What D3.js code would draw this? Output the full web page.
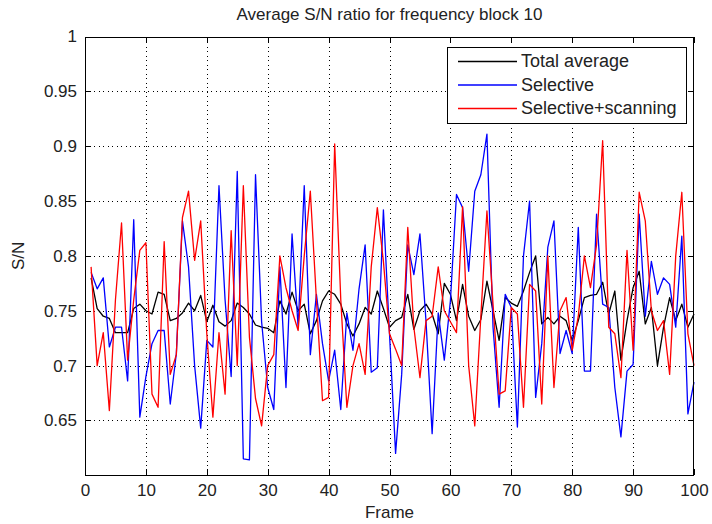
<!DOCTYPE html>
<html>
<head>
<meta charset="utf-8">
<script src="https://cdn.jsdelivr.net/npm/d3@7"></script>
<style>
  html, body { margin: 0; padding: 0; background: #fff; }
  svg { display: block; font-family: "Liberation Sans", Arial, sans-serif; }
</style>
</head>
<body>
<svg id="chart" width="712" height="524"></svg>
<script>
// Frame numbers 1..100
const frames = d3.range(1, 101);

// Average S/N per frame, all blocks combined
const totalAverage = [
  0.780, 0.752, 0.745, 0.743, 0.730, 0.730, 0.730, 0.752, 0.756, 0.750,
  0.747, 0.767, 0.765, 0.741, 0.743, 0.748, 0.757, 0.750, 0.764, 0.740,
  0.755, 0.740, 0.736, 0.741, 0.757, 0.753, 0.747, 0.737, 0.735, 0.734,
  0.730, 0.759, 0.747, 0.767, 0.750, 0.756, 0.729, 0.741, 0.759, 0.768,
  0.765, 0.756, 0.738, 0.727, 0.738, 0.753, 0.747, 0.768, 0.752, 0.735,
  0.741, 0.744, 0.765, 0.733, 0.750, 0.756, 0.747, 0.729, 0.775, 0.765,
  0.741, 0.774, 0.745, 0.732, 0.742, 0.777, 0.750, 0.723, 0.762, 0.757,
  0.754, 0.768, 0.785, 0.800, 0.738, 0.744, 0.738, 0.745, 0.741, 0.723,
  0.741, 0.762, 0.764, 0.765, 0.776, 0.747, 0.768, 0.705, 0.741, 0.771,
  0.786, 0.738, 0.753, 0.700, 0.735, 0.762, 0.741, 0.756, 0.735, 0.747
];

// Selective mode
const selective = [
  0.785, 0.770, 0.780, 0.717, 0.735, 0.735, 0.686, 0.833, 0.653, 0.690,
  0.720, 0.732, 0.732, 0.665, 0.711, 0.832, 0.790, 0.700, 0.643, 0.723,
  0.717, 0.864, 0.760, 0.690, 0.877, 0.615, 0.614, 0.874, 0.740, 0.680,
  0.660, 0.790, 0.680, 0.820, 0.735, 0.864, 0.710, 0.765, 0.720, 0.686,
  0.714, 0.660, 0.748, 0.714, 0.770, 0.810, 0.694, 0.698, 0.842, 0.729,
  0.620, 0.692, 0.810, 0.783, 0.820, 0.740, 0.638, 0.748, 0.705, 0.759,
  0.856, 0.844, 0.786, 0.859, 0.874, 0.911, 0.735, 0.662, 0.765, 0.753,
  0.644, 0.800, 0.850, 0.671, 0.720, 0.808, 0.832, 0.711, 0.732, 0.711,
  0.826, 0.695, 0.695, 0.838, 0.756, 0.753, 0.680, 0.635, 0.695, 0.701,
  0.838, 0.745, 0.795, 0.765, 0.780, 0.774, 0.735, 0.818, 0.656, 0.685
];

// Selective mode with scanning
const selectiveScanning = [
  0.790, 0.700, 0.730, 0.659, 0.760, 0.830, 0.705, 0.760, 0.805, 0.812,
  0.674, 0.662, 0.813, 0.692, 0.710, 0.835, 0.859, 0.796, 0.832, 0.729,
  0.653, 0.730, 0.674, 0.823, 0.700, 0.864, 0.726, 0.670, 0.645, 0.700,
  0.710, 0.800, 0.771, 0.750, 0.732, 0.800, 0.859, 0.760, 0.668, 0.671,
  0.902, 0.760, 0.662, 0.700, 0.720, 0.692, 0.790, 0.844, 0.795, 0.729,
  0.715, 0.700, 0.826, 0.735, 0.689, 0.741, 0.745, 0.790, 0.750, 0.740,
  0.730, 0.845, 0.700, 0.645, 0.745, 0.841, 0.756, 0.674, 0.677, 0.753,
  0.747, 0.662, 0.774, 0.768, 0.665, 0.800, 0.680, 0.750, 0.762, 0.714,
  0.745, 0.800, 0.771, 0.810, 0.905, 0.735, 0.729, 0.689, 0.805, 0.714,
  0.858, 0.832, 0.750, 0.732, 0.741, 0.692, 0.800, 0.858, 0.729, 0.700
];

const xTicks = [0, 10, 20, 30, 40, 50, 60, 70, 80, 90, 100];
const yTicks = [0.65, 0.7, 0.75, 0.8, 0.85, 0.9, 0.95, 1];

const seriesNames = ["Total average", "Selective", "Selective+scanning"];
const seriesColors = ["#000000", "#0000ff", "#ff0000"];
const seriesValues = [totalAverage, selective, selectiveScanning];

const titleText = "Average S/N ratio for frequency block 10";
const xLabel = "Frame";
const yLabel = "S/N";

// ---- layout ----
const plot = { left: 85, right: 694, top: 36.5, bottom: 475.3 };
const svg = d3.select("#chart");

const x = d3.scaleLinear().domain([0, 100]).range([plot.left, plot.right]);
const y = d3.scaleLinear().domain([0.6, 1]).range([plot.bottom, plot.top]);

// dotted grid
const grid = svg.append("g").attr("stroke", "#000").attr("stroke-width", 1)
  .attr("stroke-dasharray", "1,3.5").attr("shape-rendering", "crispEdges");
grid.selectAll("line.v").data(xTicks.filter(d => d > 0 && d < 100)).join("line")
  .attr("x1", d => Math.round(x(d)) + 0.5).attr("x2", d => Math.round(x(d)) + 0.5)
  .attr("y1", plot.bottom).attr("y2", plot.top);
grid.selectAll("line.h").data(yTicks.filter(d => d < 1)).join("line")
  .attr("y1", d => Math.round(y(d)) + 0.5).attr("y2", d => Math.round(y(d)) + 0.5)
  .attr("x1", plot.left).attr("x2", plot.right);

// series lines
const line = d3.line().x((d, i) => x(frames[i])).y(d => y(d));
svg.append("g").selectAll("path").data(seriesValues).join("path")
  .attr("d", d => line(d))
  .attr("fill", "none")
  .attr("stroke", (d, i) => seriesColors[i])
  .attr("stroke-width", 1.3)
  .attr("stroke-linejoin", "round");

// axes with inward ticks on all four sides
const tickLen = 6;
const fontSize = 17;
const axisStyle = g => {
  g.select(".domain").remove();
  g.selectAll(".tick line").attr("stroke", "#000").attr("shape-rendering", "crispEdges");
  g.selectAll(".tick text").attr("fill", "#222").attr("font-size", fontSize)
    .attr("font-family", "'Liberation Sans', Arial, sans-serif");
};

svg.append("g").attr("transform", `translate(0,${plot.bottom})`)
  .call(d3.axisBottom(x).tickValues(xTicks).tickFormat(d3.format("d"))
    .tickSizeInner(-tickLen).tickSizeOuter(0).tickPadding(9))
  .call(axisStyle);
svg.append("g").attr("transform", `translate(0,${plot.top})`)
  .call(d3.axisTop(x).tickValues(xTicks).tickFormat("")
    .tickSizeInner(-tickLen).tickSizeOuter(0))
  .call(axisStyle);
svg.append("g").attr("transform", `translate(${plot.left},0)`)
  .call(d3.axisLeft(y).tickValues(yTicks).tickFormat(d3.format("~g"))
    .tickSizeInner(-tickLen).tickSizeOuter(0).tickPadding(8))
  .call(axisStyle);
svg.append("g").attr("transform", `translate(${plot.right},0)`)
  .call(d3.axisRight(y).tickValues(yTicks).tickFormat("")
    .tickSizeInner(-tickLen).tickSizeOuter(0))
  .call(axisStyle);

// plot frame
svg.append("rect")
  .attr("x", plot.left + 0.5).attr("y", Math.round(plot.top) + 0.5)
  .attr("width", plot.right - plot.left - 1)
  .attr("height", Math.round(plot.bottom) - Math.round(plot.top))
  .attr("fill", "none").attr("stroke", "#000").attr("stroke-width", 1)
  .attr("shape-rendering", "crispEdges");

// title and axis labels
svg.append("text").attr("x", (plot.left + plot.right) / 2).attr("y", 20)
  .attr("text-anchor", "middle").attr("font-size", fontSize).attr("fill", "#222")
  .text(titleText);
svg.append("text").attr("x", (plot.left + plot.right) / 2).attr("y", 518)
  .attr("text-anchor", "middle").attr("font-size", fontSize).attr("fill", "#222")
  .text(xLabel);
svg.append("text").attr("transform", `translate(24,${(plot.top + plot.bottom) / 2}) rotate(-90)`)
  .attr("text-anchor", "middle").attr("font-size", fontSize).attr("fill", "#222")
  .text(yLabel);

// legend
const legend = svg.append("g");
const lg = { x: 447, y: 46.5, w: 239, h: 76 };
legend.append("rect").attr("x", lg.x + 0.5).attr("y", lg.y + 0.5)
  .attr("width", lg.w).attr("height", lg.h)
  .attr("fill", "#fff").attr("stroke", "#000").attr("stroke-width", 1)
  .attr("shape-rendering", "crispEdges");
const rowY = d3.scalePoint().domain(seriesNames).range([61, 108]);
const rows = legend.selectAll("g.row").data(seriesNames).join("g")
  .attr("transform", d => `translate(0,${rowY(d)})`);
rows.append("line").attr("x1", 458).attr("x2", 517).attr("y1", 0.5).attr("y2", 0.5)
  .attr("stroke", (d, i) => seriesColors[i]).attr("stroke-width", 1.3);
rows.append("text").attr("x", 521).attr("y", 0).attr("dy", "0.35em")
  .attr("font-size", 18).attr("fill", "#222").text(d => d);
</script>
</body>
</html>
